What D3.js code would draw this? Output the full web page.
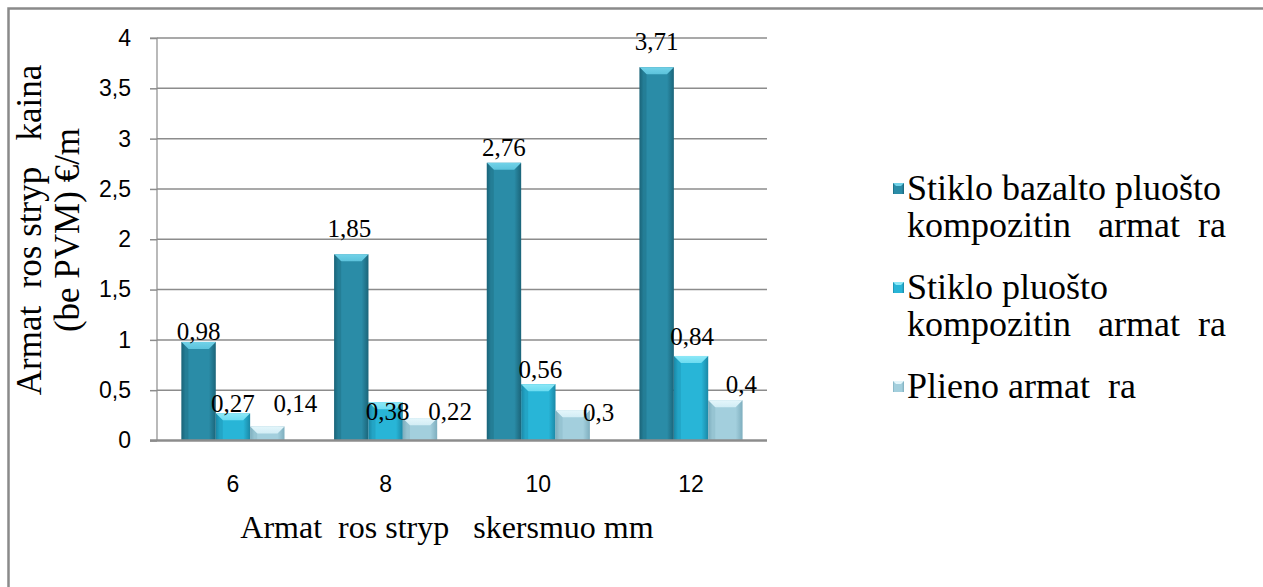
<!DOCTYPE html>
<html>
<head>
<meta charset="utf-8">
<script src="https://cdn.jsdelivr.net/npm/d3@7"></script>
<style>
  html, body { margin: 0; padding: 0; background: #fff; }
  svg { display: block; }
  text { white-space: pre; }
</style>
</head>
<body>
<svg id="chart" width="1263" height="587"></svg>
<script>
// Rebar diameter categories (mm)
const categories = ["6", "8", "10", "12"];

// Price per metre, excl. VAT (€/m)
const seriesNames = [
  ["Stiklo bazalto pluošto", "kompozitin   armat  ra"],
  ["Stiklo pluošto", "kompozitin   armat  ra"],
  ["Plieno armat  ra"]
];
const basaltGlass = [0.98, 1.85, 2.76, 3.71];
const glassFibre  = [0.27, 0.38, 0.56, 0.84];
const steel       = [0.14, 0.22, 0.30, 0.40];
const seriesValues = [basaltGlass, glassFibre, steel];

const yTicks = [0, 0.5, 1, 1.5, 2, 2.5, 3, 3.5, 4];

// Hand-placed label nudges (px) relative to the bar top / bar centre
const labelDy = [[-2, -17, -7, -17], [-1, 18, -6, -11], [-14, 2, 11, -7]];
const labelDx = [[0, -2, 0, 0], [0, 2, 2, 1], [28, 30, 26, 16]];

const palette = [
  { body: "#2a8ca7", dark: "#1b6479", light: "#5cc3dc", top: "#72d2e8" },
  { body: "#28b5d7", dark: "#1b88a6", light: "#6cdcf1", top: "#8de8f7" },
  { body: "#a3cfdd", dark: "#7eaebe", light: "#d2edf5", top: "#e4f6fb" }
];

const svg = d3.select("#chart");
const serif = "'Liberation Serif', 'Times New Roman', serif";
const sans = "'Liberation Sans', Arial, sans-serif";
const tickSize = 23;

// Outer frame
svg.append("rect")
  .attr("x", 8.5).attr("y", 8.5).attr("width", 1400).attr("height", 800)
  .attr("fill", "none").attr("stroke", "#8a8a8a").attr("stroke-width", 2.5);

const plot = { left: 157, right: 767, top: 38, bottom: 440.5 };

const y = d3.scaleLinear().domain([0, 4]).range([plot.bottom, plot.top]);
const x0 = d3.scaleBand().domain(categories).range([plot.left, plot.right])
  .paddingInner(0.325).paddingOuter(0.16);
const x1 = d3.scaleBand().domain(d3.range(seriesValues.length)).range([0, x0.bandwidth()]).padding(0);

// Gradients for bar faces
const defs = svg.append("defs");
palette.forEach((p, i) => {
  const g = defs.append("linearGradient").attr("id", "face" + i)
    .attr("x1", "0%").attr("x2", "100%").attr("y1", "0%").attr("y2", "0%");
  g.append("stop").attr("offset", "0%").attr("stop-color", p.dark);
  g.append("stop").attr("offset", "12%").attr("stop-color", p.body);
  g.append("stop").attr("offset", "80%").attr("stop-color", p.body);
  g.append("stop").attr("offset", "100%").attr("stop-color", p.dark);
  const t = defs.append("linearGradient").attr("id", "top" + i)
    .attr("x1", "0%").attr("x2", "0%").attr("y1", "0%").attr("y2", "100%");
  t.append("stop").attr("offset", "0%").attr("stop-color", p.top);
  t.append("stop").attr("offset", "100%").attr("stop-color", p.light);
});

// Gridlines
svg.append("g")
  .selectAll("line").data(yTicks.filter(d => d > 0)).join("line")
  .attr("x1", plot.left).attr("x2", plot.right)
  .attr("y1", d => y(d)).attr("y2", d => y(d))
  .attr("stroke", "#8c8c8c").attr("stroke-width", 1.5);

// Y axis
const yAxis = d3.axisLeft(y).tickValues(yTicks).tickSize(7).tickPadding(19)
  .tickFormat(d => String(d).replace(".", ","));
const gy = svg.append("g").attr("transform", `translate(${plot.left},0)`).call(yAxis);
gy.attr("font-family", sans).attr("font-size", tickSize);
gy.select(".domain").attr("stroke", "#8c8c8c").attr("stroke-width", 1.2).attr("d", `M-7,${plot.top}H0V${plot.bottom}`);
gy.selectAll(".tick line").attr("stroke", "#8c8c8c").attr("stroke-width", 1.5);
gy.selectAll(".tick text").attr("fill", "#000")
  .style("font-size", tickSize + "px").style("font-family", sans);

// Bars
const bars = svg.append("g");
seriesValues.forEach((vals, s) => {
  vals.forEach((v, c) => {
    const bx = x0(categories[c]) + x1(s);
    const bw = x1.bandwidth();
    const by = y(v);
    const bh = y(0) - by;
    const g = bars.append("g");
    g.append("rect").attr("x", bx).attr("y", by).attr("width", bw).attr("height", bh)
      .attr("fill", `url(#face${s})`);
    const b = Math.min(7, bh / 2);
    g.append("path")
      .attr("d", `M${bx},${by}H${bx + bw}L${bx + bw - b},${by + b}H${bx + b}Z`)
      .attr("fill", `url(#top${s})`);
    g.append("path")
      .attr("d", `M${bx},${by}L${bx + b},${by + b}V${by + bh}H${bx}Z`)
      .attr("fill", palette[s].dark).attr("opacity", 0.35);
  });
});

// Value labels
const labels = svg.append("g");
seriesValues.forEach((vals, s) => {
  vals.forEach((v, c) => {
    const cx = x0(categories[c]) + x1(s) + x1.bandwidth() / 2;
    labels.append("text")
      .attr("x", cx + labelDx[s][c]).attr("y", y(v) + labelDy[s][c])
      .attr("text-anchor", "middle")
      .attr("font-family", serif).attr("font-size", 25).attr("fill", "#000")
      .text(String(v).replace(".", ","));
  });
});

// X axis baseline and category labels
svg.append("line")
  .attr("x1", plot.left - 7).attr("x2", plot.right)
  .attr("y1", y(0)).attr("y2", y(0))
  .attr("stroke", "#8c8c8c").attr("stroke-width", 2.5);
svg.append("g").selectAll("text").data(categories).join("text")
  .attr("x", d => x0(d) + x0.bandwidth() / 2)
  .attr("y", 492)
  .attr("text-anchor", "middle")
  .style("font-family", sans).style("font-size", tickSize + "px").attr("fill", "#000")
  .text(d => d);

// Axis titles
svg.append("text")
  .attr("x", 447).attr("y", 538)
  .attr("text-anchor", "middle")
  .attr("font-family", serif).attr("font-size", 32).attr("fill", "#000")
  .text("Armat  ros stryp   skersmuo mm");

const yTitle = svg.append("text")
  .attr("transform", "translate(0,230) rotate(-90)")
  .attr("text-anchor", "middle")
  .attr("font-family", serif).attr("font-size", 35).attr("fill", "#000");
yTitle.append("tspan").attr("x", 0).attr("y", 41).text("Armat  ros stryp   kaina");
yTitle.append("tspan").attr("x", 0).attr("y", 79).text("(be PVM) €/m");

// Legend
const legendItems = [
  { lines: seriesNames[0], y: 200 },
  { lines: seriesNames[1], y: 299 },
  { lines: seriesNames[2], y: 398 }
];
const legend = svg.append("g");
legendItems.forEach((item, i) => {
  const p = palette[i];
  const mx = 893, my = item.y - 17, ms = 11;
  legend.append("rect").attr("x", mx).attr("y", my).attr("width", ms).attr("height", ms)
    .attr("fill", `url(#face${i})`);
  legend.append("path")
    .attr("d", `M${mx},${my}H${mx + ms}L${mx + ms - 3},${my + 3}H${mx + 3}Z`)
    .attr("fill", p.top);
  const t = legend.append("text")
    .attr("font-family", serif).attr("font-size", 36).attr("fill", "#000");
  item.lines.forEach((line, k) => {
    t.append("tspan").attr("x", 907).attr("y", item.y + k * 37).text(line);
  });
});
</script>
</body>
</html>
